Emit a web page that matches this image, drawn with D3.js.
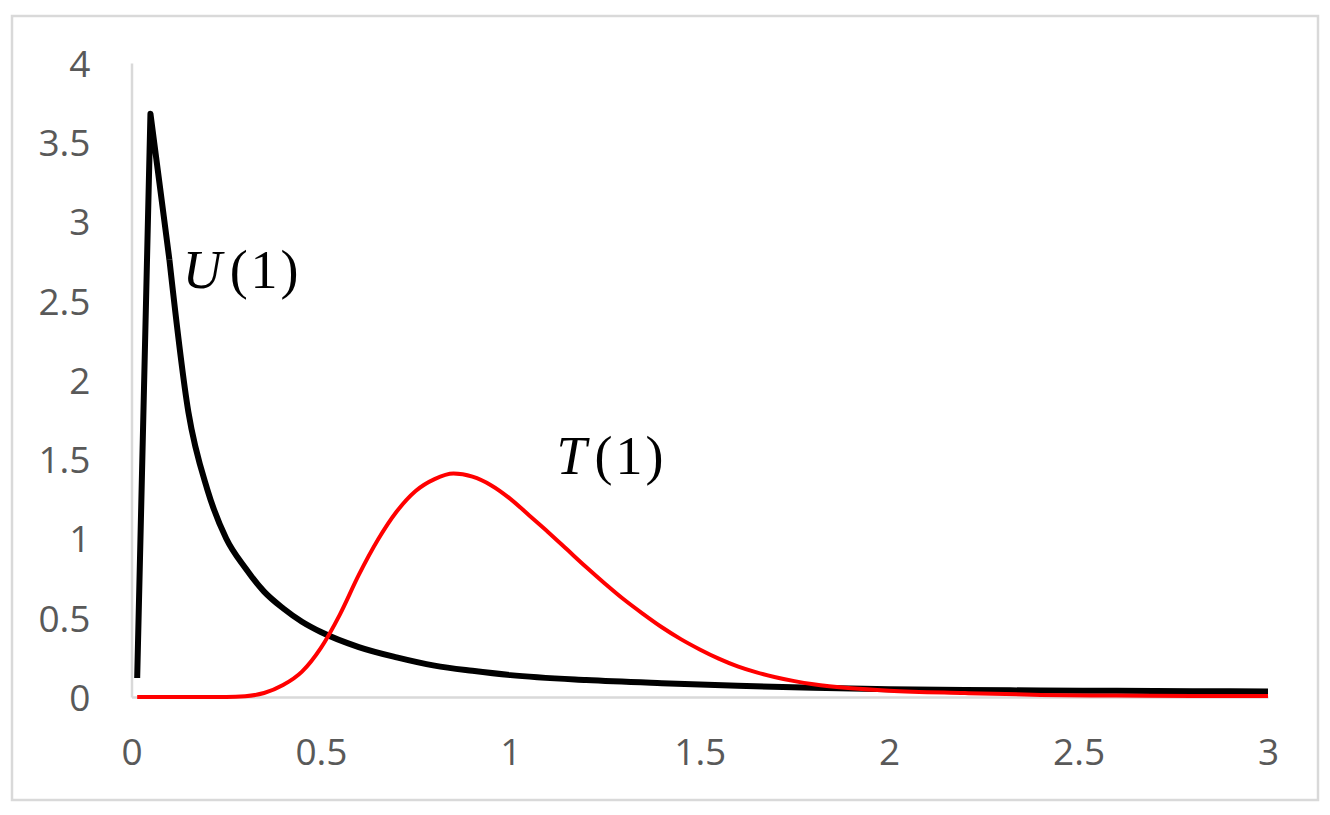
<!DOCTYPE html>
<html>
<head>
<meta charset="utf-8">
<script src="https://cdn.jsdelivr.net/npm/d3@7"></script>
<style>
  html, body { margin: 0; padding: 0; background: #fff; }
  svg { display: block; }
</style>
</head>
<body>
<svg id="chart" width="1330" height="815"></svg>
<script>
// ---- data ----
const uX = [0.015, 0.05, 0.1, 0.15, 0.2, 0.25, 0.3, 0.35, 0.4, 0.45, 0.5, 0.6, 0.7, 0.8, 0.9, 1.0, 1.2, 1.4, 1.6, 1.8, 2.0, 2.2, 2.4, 2.6, 2.8, 3.0];
const uY = [0.12, 3.68, 2.76, 1.80, 1.31, 1.0, 0.815, 0.665, 0.56, 0.475, 0.41, 0.315, 0.25, 0.198, 0.165, 0.138, 0.107, 0.087, 0.071, 0.058, 0.049, 0.044, 0.041, 0.039, 0.037, 0.035];

const tX = [0.015, 0.1, 0.2, 0.25, 0.3, 0.35, 0.4, 0.45, 0.5, 0.55, 0.6, 0.65, 0.7, 0.75, 0.8, 0.85, 0.9, 0.95, 1.0, 1.05, 1.1, 1.15, 1.2, 1.25, 1.3, 1.35, 1.4, 1.45, 1.5, 1.55, 1.6, 1.65, 1.7, 1.75, 1.8, 1.9, 2.0, 2.2, 2.4, 2.6, 2.8, 3.0];
const tY = [0, 0, 0, 0, 0.005, 0.025, 0.075, 0.16, 0.31, 0.52, 0.77, 0.99, 1.17, 1.30, 1.375, 1.41, 1.39, 1.335, 1.25, 1.145, 1.04, 0.93, 0.82, 0.715, 0.615, 0.525, 0.44, 0.365, 0.30, 0.242, 0.193, 0.155, 0.125, 0.10, 0.08, 0.055, 0.04, 0.025, 0.013, 0.009, 0.007, 0.006];

const xTicks = [0, 0.5, 1, 1.5, 2, 2.5, 3];
const yTicks = [0, 0.5, 1, 1.5, 2, 2.5, 3, 3.5, 4];

const labels = [
  { name: "U", x: 0.135, y: 2.58 },
  { name: "T", x: 1.122, y: 1.41 }
];

// ---- drawing ----
const svg = d3.select("#chart");

// outer frame
svg.append("rect")
  .attr("x", 12).attr("y", 16)
  .attr("width", 1306).attr("height", 784)
  .attr("fill", "#fff")
  .attr("stroke", "#d9d9d9")
  .attr("stroke-width", 2.5);

const x = d3.scaleLinear().domain([0, 3]).range([131.5, 1268]);
const y = d3.scaleLinear().domain([0, 4]).range([697, 63]);

const tickFont = "'Open Sans', 'Noto Sans', sans-serif";

// y axis
const gy = svg.append("g")
  .attr("transform", `translate(${x(0)},0)`)
  .call(d3.axisLeft(y).tickValues(yTicks).tickFormat(d3.format("")).tickSize(0).tickPadding(41));
gy.select(".domain").attr("stroke", "#d9d9d9").attr("stroke-width", 2.5);
gy.selectAll("text")
  .attr("font-family", tickFont)
  .attr("font-size", 37)
  .attr("fill", "#595959")
  .attr("dy", "0.36em");

// x axis
const gx = svg.append("g")
  .attr("transform", `translate(0,${y(0)})`)
  .call(d3.axisBottom(x).tickValues(xTicks).tickFormat(d3.format("")).tickSize(0).tickPadding(55));
gx.select(".domain").attr("stroke", "#d9d9d9").attr("stroke-width", 2.5);
gx.selectAll("text")
  .attr("font-family", tickFont)
  .attr("font-size", 37)
  .attr("fill", "#595959")
  .attr("y", 55)
  .attr("dy", "0.36em");

// lines
const uData = uX.map((v, i) => [v, uY[i]]);
const tData = tX.map((v, i) => [v, tY[i]]);

const linear = d3.line().x(d => x(d[0])).y(d => y(d[1])).curve(d3.curveLinear);
const smooth = d3.line().x(d => x(d[0])).y(d => y(d[1])).curve(d3.curveMonotoneX);

// sharp rise and peak
svg.append("path")
  .datum(uData.slice(0, 3))
  .attr("d", linear)
  .attr("fill", "none")
  .attr("stroke", "#000")
  .attr("stroke-width", 6)
  .attr("stroke-linejoin", "round");

// smooth decay
svg.append("path")
  .datum(uData.slice(2))
  .attr("d", smooth)
  .attr("fill", "none")
  .attr("stroke", "#000")
  .attr("stroke-width", 6)
  .attr("stroke-linejoin", "round");

svg.append("path")
  .datum(tData)
  .attr("d", smooth)
  .attr("fill", "none")
  .attr("stroke", "#ff0000")
  .attr("stroke-width", 4)
  .attr("stroke-linejoin", "round");

// labels  U(1), T(1)
labels.forEach(l => {
  const t = svg.append("text")
    .attr("x", x(l.x))
    .attr("y", y(l.y))
    .attr("font-family", "'Liberation Serif', 'DejaVu Serif', serif")
    .attr("font-size", 54)
    .attr("fill", "#000");
  t.append("tspan").attr("font-style", "italic").text(l.name);
  t.append("tspan").attr("dx", 8).attr("letter-spacing", 3).text("(1)");
});
</script>
</body>
</html>
